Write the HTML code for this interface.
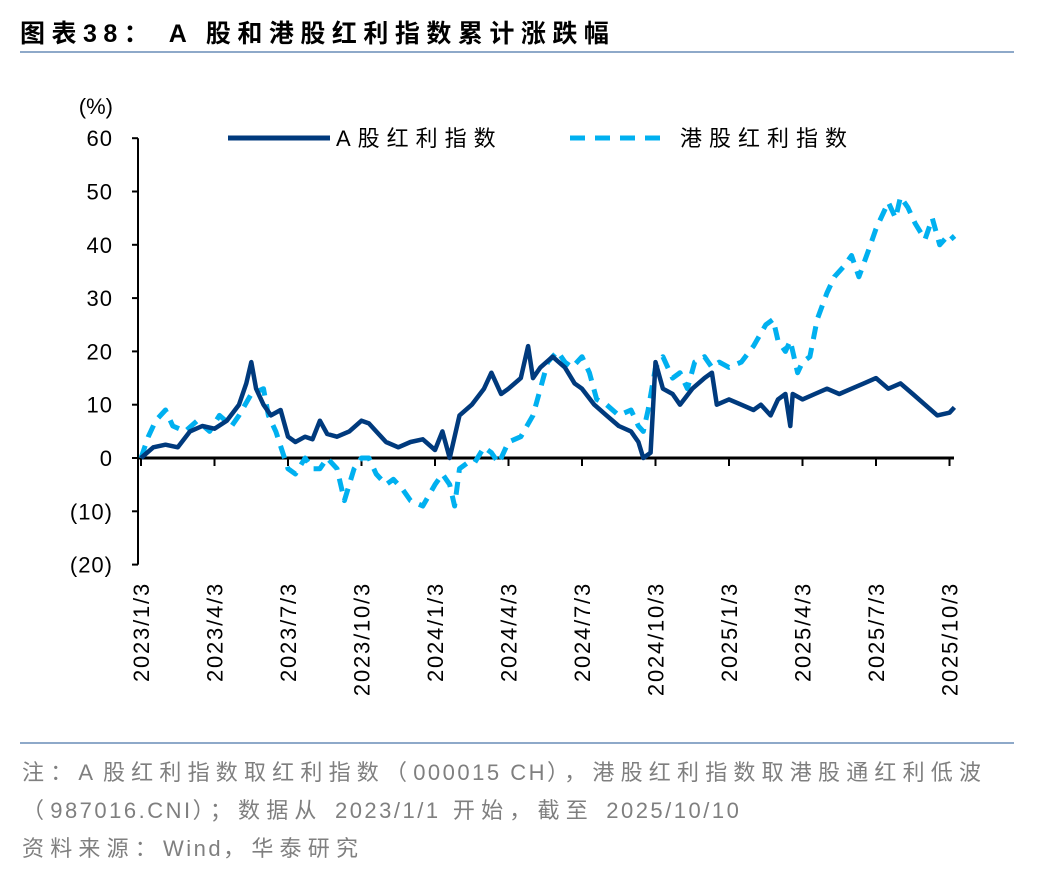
<!DOCTYPE html>
<html><head><meta charset="utf-8"><style>
body{margin:0;width:1048px;height:872px;background:#fff;font-family:"Liberation Sans","Noto Sans CJK SC",sans-serif;overflow:hidden;position:relative}
.t{position:absolute;white-space:nowrap}
.n{font-size:22px;color:#7f7f7f;letter-spacing:6.2px}
.l{letter-spacing:2.5px}
</style></head><body>
<div class="t" style="left:20px;top:14px;font-size:25px;font-weight:bold;color:#000;letter-spacing:6.5px">图表38：&nbsp;A 股和港股红利指数累计涨跌幅</div>
<div style="position:absolute;left:20px;top:51px;width:994px;height:2px;background:#8ea9c9"></div>
<svg id="c" width="1048" height="740" style="position:absolute;left:0;top:0" font-family="Liberation Sans, Noto Sans CJK SC, sans-serif"></svg>
<div style="position:absolute;left:20px;top:742px;width:994px;height:2px;background:#8ea9c9"></div>
<div class="t n" style="left:22px;top:755px">注：<span class="l">A </span>股红利指数取红利指数（<span class="l">000015 CH</span>），港股红利指数取港股通红利低波</div>
<div class="t n" style="left:22px;top:793px">（<span class="l">987016.CNI</span>）；数据从 <span class="l">2023/1/1</span> 开始，截至 <span class="l">2025/10/10</span></div>
<div class="t n" style="left:22px;top:831px">资料来源：<span class="l">Wind</span>，华泰研究</div>
<script>
const aMonths=[0,0.5,1,1.5,2,2.5,3,3.5,4,4.3,4.5,4.7,5,5.3,5.7,6,6.3,6.7,7,7.3,7.6,8,8.5,9,9.3,9.6,10,10.5,11,11.5,12,12.3,12.6,12.8,13,13.5,14,14.3,14.7,15,15.5,15.8,16,16.3,16.8,17.3,17.7,18,18.5,19,19.5,20,20.3,20.5,20.8,21,21.3,21.7,22,22.5,23,23.3,23.5,24,24.5,25,25.3,25.7,26,26.3,26.5,26.6,27,27.5,28,28.5,29,29.5,30,30.5,31,31.5,32,32.5,33,33.2];
const aValues=[0,2,2.5,2,5,6,5.5,7,10,14,18,13,10,8,9,4,3,4,3.5,7,4.5,4,5,7,6.5,5,3,2,3,3.5,1.5,5,0,4,8,10,13,16,12,13,15,21,15,17,19,17,14,13,10,8,6,5,3,0,1,18,13,12,10,13,15,16,10,11,10,9,10,8,11,12,6,12,11,12,13,12,13,14,15,13,14,12,10,8,8.5,9.5];
const hMonths=[0,0.3,0.6,1,1.3,1.8,2.3,2.8,3.2,3.7,4,4.5,5,5.2,5.5,6,6.3,6.7,7,7.3,7.6,8,8.3,8.7,9,9.3,9.6,10,10.3,10.7,11,11.5,12,12.3,12.6,12.8,13,13.3,13.6,14,14.3,14.6,15,15.5,16,16.3,16.6,17,17.3,17.6,18,18.3,18.6,19,19.5,20,20.3,20.5,20.7,21,21.3,21.7,22,22.3,22.6,23,23.3,23.6,24,24.5,25,25.5,25.8,26,26.3,26.5,26.8,27,27.3,27.6,28,28.3,28.7,29,29.3,29.7,30,30.3,30.5,30.8,31,31.3,31.6,32,32.3,32.6,33,33.2];
const hValues=[0,4,7,9,6,5,7,5,8,6,8,12,13,8,5,-2,-3,0,-2,-2,0,-2,-8,-2,0,0,-3,-5,-4,-6,-8,-9,-5,-3,-5,-9,-2,-1,-1,2,1,-1,3,4,8,13,18,20,18,17,19,16,11,10,8,9,6,5,9,17,19,15,16,13,18,19,17,18,17,18,21,25,26,22,20,22,16,18,19,26,31,34,36,38,34,39,43,46,48,45,49,47,44,41,45,40,42,41];
const yTicks=[60,50,40,30,20,10,0,-10,-20];
const yLabels=["60","50","40","30","20","10","0","(10)","(20)"];
const xTickMonths=[0,3,6,9,12,15,18,21,24,27,30,33];
const xLabels=["2023/1/3","2023/4/3","2023/7/3","2023/10/3","2024/1/3","2024/4/3","2024/7/3","2024/10/3","2025/1/3","2025/4/3","2025/7/3","2025/10/3"];
const X=m=>141+m*24.5, Y=v=>458-v*5.33;
const svg=document.getElementById('c'), NS='http://www.w3.org/2000/svg';
function mk(t,a){const e=document.createElementNS(NS,t);for(const k in a)e.setAttribute(k,a[k]);svg.appendChild(e);return e;}
let e=mk('line',{x1:138,y1:Y(60),x2:138,y2:Y(-20),stroke:'#000','stroke-width':2});


yTicks.forEach((v,i)=>{
 let l=mk('line',{x1:132,x2:138,y1:Y(v),y2:Y(v),stroke:'#000','stroke-width':2});
 
 
 let t=mk('text',{x:113,y:Y(v)+8,'font-size':22,'text-anchor':'end',fill:'#000','letter-spacing':1});t.textContent=yLabels[i];
 
 
});
let u=mk('text',{x:113,y:114,'font-size':22,'text-anchor':'end',fill:'#000'});u.textContent='(%)';


e=mk('line',{x1:138,y1:458,x2:954,y2:458,stroke:'#000','stroke-width':3});


xTickMonths.forEach((m,i)=>{
 let l=mk('line',{x1:X(m),x2:X(m),y1:458,y2:466,stroke:'#000','stroke-width':2});
 
 
 let t=mk('text',{x:0,y:0,'font-size':22,'text-anchor':'end',fill:'#000','letter-spacing':1.8,transform:`translate(${X(m)+8},582) rotate(-90)`});t.textContent=xLabels[i];
 
 
});
const pts=(ms,vs)=>ms.map((m,i)=>X(m).toFixed(1)+','+Y(vs[i]).toFixed(1)).join(' ');
let h=mk('polyline',{points:pts(hMonths,hValues),fill:'none',stroke:'#00b0f0','stroke-width':5,'stroke-dasharray':'13 9','stroke-linejoin':'round'});


let a=mk('polyline',{points:pts(aMonths,aValues),fill:'none',stroke:'#003a7d','stroke-width':4.5,'stroke-linejoin':'round'});


let l1=mk('line',{x1:228,x2:330,y1:138,y2:138,stroke:'#003a7d','stroke-width':5});


let t1=mk('text',{x:336,y:146,'font-size':22,fill:'#000','letter-spacing':7});t1.textContent='A股红利指数';


let l2=mk('line',{x1:570,x2:670,y1:138,y2:138,stroke:'#00b0f0','stroke-width':5,'stroke-dasharray':'15 10'});


let t2=mk('text',{x:680,y:146,'font-size':22,fill:'#000','letter-spacing':7});t2.textContent='港股红利指数';


</script>
</body></html>
